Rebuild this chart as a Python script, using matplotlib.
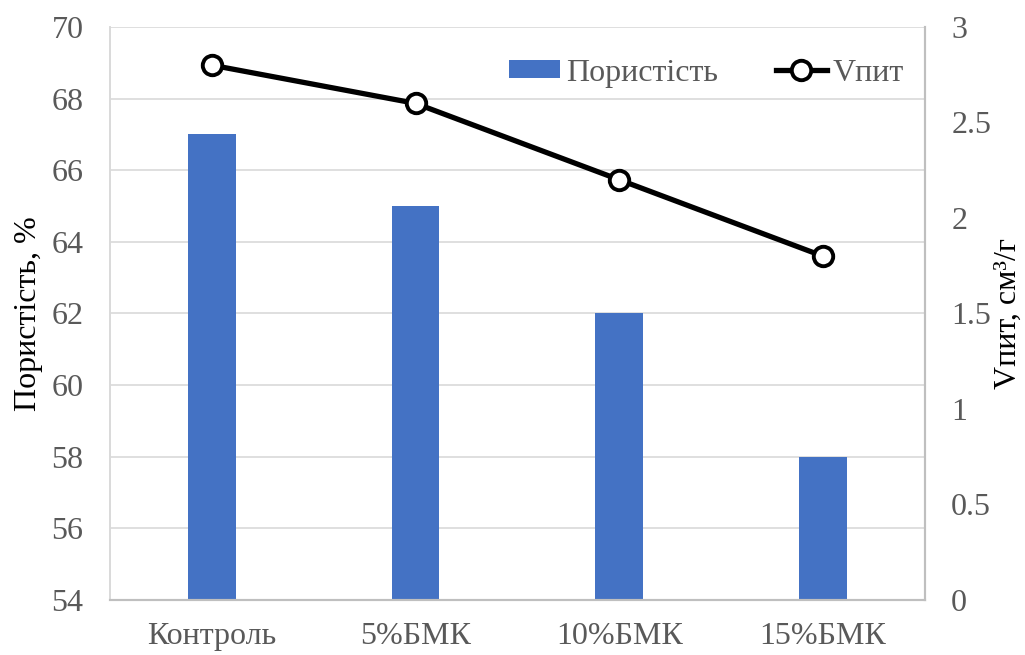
import matplotlib
matplotlib.use("Agg")
import matplotlib.pyplot as plt
import numpy as np

categories = ["Контроль", "5%БМК", "10%БМК", "15%БМК"]
porosity = [67, 65, 62, 58]
vpit = [2.8, 2.6, 2.2, 1.8]

plt.rcParams['font.family'] = ['Liberation Serif', 'DejaVu Serif']
FS = 23

fig = plt.figure(figsize=(10.25, 6.55), dpi=100)
ax = fig.add_axes([0.1073, 0.084, 0.795, 0.8748])
ax2 = ax.twinx()

x = np.arange(len(categories))
bars = ax.bar(x, porosity, width=0.235, color="#4472C4", label="Пористість", zorder=2)
ax.set_ylim(54, 70)
ax.set_xlim(-0.5, len(categories) - 0.5)
ax.set_yticks(np.arange(54, 71, 2))
ax.yaxis.grid(True, color="#D9D9D9", linewidth=1.2, zorder=0)
ax.set_axisbelow(True)
ax.set_xticks(x)
ax.set_xticklabels(categories)
ax.tick_params(axis='both', length=0, labelsize=FS, colors="#595959")
ax.tick_params(axis='y', pad=19)
ax.tick_params(axis='x', pad=16)
ax.set_ylabel("Пористість, %", fontsize=FS, color="black", labelpad=6)

line, = ax2.plot(x, vpit, color="black", linewidth=3.8, marker="o", markersize=14,
                 markerfacecolor="white", markeredgecolor="black", markeredgewidth=2.8,
                 label="Vпит", zorder=3)
ax2.set_ylim(0, 3)
ax2.set_yticks([0, 0.5, 1, 1.5, 2, 2.5, 3])
ax2.set_yticklabels(["0", "0.5", "1", "1.5", "2", "2.5", "3"])
ax2.tick_params(axis='y', length=0, labelsize=FS, colors="#595959", pad=19)
ax2.set_ylabel("Vпит, см³/г", fontsize=FS, color="black", labelpad=2)

for a in (ax, ax2):
    a.spines['top'].set_visible(False)
    a.spines['left'].set_color("#D9D9D9")
    a.spines['right'].set_color("#BFBFBF")
    a.spines['bottom'].set_color("#BFBFBF")
    a.spines['left'].set_linewidth(1.2)
    a.spines['right'].set_linewidth(1.5)
    a.spines['bottom'].set_linewidth(1.5)

leg = ax2.legend([bars, line], ["Пористість", "Vпит"], loc="upper right",
                 bbox_to_anchor=(1.01, 0.995), ncol=2, frameon=False, fontsize=FS,
                 handlelength=1.6, handleheight=0.5, columnspacing=1.8, handletextpad=0.2)
for t in leg.get_texts():
    t.set_color("#595959")

fig.savefig("out.png", dpi=100)
